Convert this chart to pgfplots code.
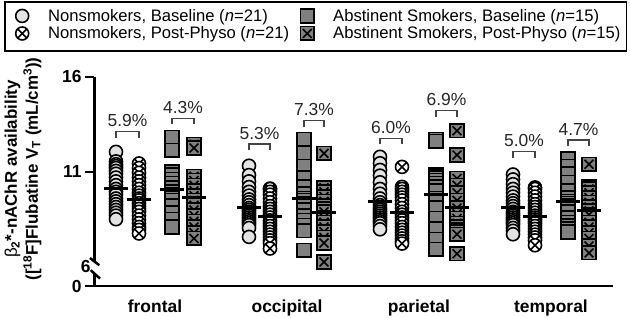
\documentclass[border=0pt]{standalone}
\usepackage{fontspec}
\setmainfont{Liberation Sans}
\usepackage{pgfplots}
\pgfplotsset{compat=1.18}
\definecolor{circfill}{HTML}{E3E3E3}
\definecolor{sqfill}{HTML}{808080}
\definecolor{brk}{HTML}{444444}
\pgfdeclareplotmark{boxtimes*}{%
  \pgfpathrectangle{\pgfqpoint{-\pgfplotmarksize}{-\pgfplotmarksize}}{\pgfqpoint{2\pgfplotmarksize}{2\pgfplotmarksize}}%
  \pgfusepathqfillstroke
  \pgfpathmoveto{\pgfqpoint{-0.65\pgfplotmarksize}{-0.65\pgfplotmarksize}}%
  \pgfpathlineto{\pgfqpoint{0.65\pgfplotmarksize}{0.65\pgfplotmarksize}}%
  \pgfpathmoveto{\pgfqpoint{-0.65\pgfplotmarksize}{0.65\pgfplotmarksize}}%
  \pgfpathlineto{\pgfqpoint{0.65\pgfplotmarksize}{-0.65\pgfplotmarksize}}%
  \pgfusepathqstroke}
\pgfplotsset{
  nsb/.style={only marks, mark=*, mark size=6.5bp, mark options={fill=circfill, draw=black, line width=1.6bp}},
  nsp/.style={only marks, mark=otimes*, mark size=6.5bp, mark options={fill=white, draw=black, line width=1.6bp}},
  smb/.style={only marks, mark=square*, mark size=6.8bp, mark options={fill=sqfill, draw=black, line width=1.6bp}},
  smp/.style={only marks, mark=boxtimes*, mark size=6.8bp, mark options={fill=sqfill, draw=black, line width=1.6bp}},
  meanbar/.style={only marks, mark=-, mark size=12bp, mark options={line width=3bp, draw=black}},
}
\newcommand{\lf}{\fontsize{16.7}{20}\selectfont}
\newcommand{\la}[1]{\makebox[242bp][l]{\lf #1}}
\newcommand{\lb}[1]{\makebox[289bp][l]{\lf #1}}
\begin{document}
\begin{tikzpicture}
\path[use as bounding box] (0,0) rectangle (630bp,318bp);
\begin{axis}[
  anchor=south west, at={(94bp,32bp)},
  scale only axis, width=519bp, height=209.3bp,
  xmin=94, xmax=613, ymin=5, ymax=16,
  clip=false,
  axis x line*=bottom, axis y line*=left,
  y axis line style={draw=none},
  x axis line style={line width=2.5bp},
  xtick={155,287,419,551},
  xticklabels={frontal,occipital,parietal,temporal},
  x tick style={draw=none},
  ytick={5,11,16},
  yticklabels={0,11,16},
  extra y ticks={6}, extra y tick labels={6},
  extra y tick style={major tick length=0pt},
  y tick style={line width=2bp, black},
  major tick length=9bp, tick align=outside,
  tick label style={font=\fontsize{17.5}{20}\selectfont\bfseries},
  xticklabel style={yshift=-1bp},
  legend columns=2, legend cell align=left,
  legend image code/.code={\path[draw=none,fill=none] (-17bp,-6bp) rectangle (26bp,6bp); \draw[#1] plot coordinates {(0bp,0bp)};},
  legend style={at={(-0.1715,1.338)}, anchor=north west, draw=none, fill=none,
    inner xsep=0bp, inner ysep=2bp, row sep=2bp,
    nodes={inner xsep=0bp, inner ysep=1bp},
    /tikz/every odd column/.append style={column sep=0bp},
    /tikz/every even column/.append style={column sep=0bp}},
]
\addlegendimage{nsb}\addlegendentry{\la{Nonsmokers, Baseline (\textit{n}=21)}}
\addlegendimage{smb}\addlegendentry{\lb{Abstinent Smokers, Baseline (\textit{n}=15)}}
\addlegendimage{nsp}\addlegendentry{\la{Nonsmokers, Post-Physo (\textit{n}=21)}}
\addlegendimage{smp}\addlegendentry{\lb{Abstinent Smokers, Post-Physo (\textit{n}=15)}}

% ---------- frontal ----------
\addplot[nsb, forget plot] coordinates {(116,12.05) (116,11.55) (116,11.4) (116,11.3) (116,11.2) (116,11.05) (116,10.9) (116,10.7) (116,10.5) (116,10.3) (116,10.1) (116,9.95) (116,9.8) (116,9.6) (116,9.45) (116,9.3) (116,9.15) (116,9.0) (116,8.85) (116,8.7) (116,8.51)};
\addplot[nsp, forget plot] coordinates {(139,11.44) (139,11.2) (139,10.95) (139,10.7) (139,10.5) (139,10.3) (139,10.1) (139,9.9) (139,9.75) (139,9.6) (139,9.5) (139,9.35) (139,9.2) (139,9.05) (139,8.9) (139,8.7) (139,8.5) (139,8.3) (139,8.1) (139,7.95) (139,7.76)};
\addplot[smb, forget plot] coordinates {(172,12.81) (172,12.14) (172,11.0) (172,10.85) (172,10.6) (172,10.4) (172,10.15) (172,9.95) (172,9.8) (172,9.65) (172,9.5) (172,9.2) (172,8.85) (172,8.5) (172,8.1)};
\addplot[smp, forget plot] coordinates {(194,12.45) (194,12.25) (194,10.77) (194,10.55) (194,10.3) (194,10.0) (194,9.75) (194,9.5) (194,9.25) (194,9.0) (194,8.7) (194,8.4) (194,8.1) (194,7.8) (194,7.5)};
% ---------- occipital ----------
\addplot[nsb, forget plot] coordinates {(249,11.32) (249,10.83) (249,10.5) (249,10.2) (249,9.95) (249,9.75) (249,9.55) (249,9.4) (249,9.25) (249,9.1) (249,9.0) (249,8.9) (249,8.8) (249,8.7) (249,8.6) (249,8.5) (249,8.4) (249,8.3) (249,8.2) (249,8.05) (249,7.58)};
\addplot[nsp, forget plot] coordinates {(270,10.12) (270,10.1) (270,9.95) (270,9.8) (270,9.6) (270,9.4) (270,9.2) (270,9.05) (270,8.9) (270,8.75) (270,8.6) (270,8.45) (270,8.3) (270,8.15) (270,8.0) (270,7.85) (270,7.7) (270,7.55) (270,7.4) (270,7.25) (270,6.97)};
\addplot[smb, forget plot] coordinates {(304,12.72) (304,12.0) (304,11.3) (304,10.7) (304,10.2) (304,9.85) (304,9.6) (304,9.5) (304,9.35) (304,9.0) (304,8.7) (304,8.45) (304,8.2) (304,7.9) (304,6.88)};
\addplot[smp, forget plot] coordinates {(324,11.97) (324,10.16) (324,9.95) (324,9.7) (324,9.45) (324,9.2) (324,9.05) (324,8.9) (324,8.6) (324,8.35) (324,8.1) (324,7.85) (324,7.55) (324,7.26) (324,6.26)};
% ---------- parietal ----------
\addplot[nsb, forget plot] coordinates {(380,11.79) (380,11.45) (380,11.1) (380,10.8) (380,10.45) (380,10.1) (380,9.85) (380,9.6) (380,9.4) (380,9.25) (380,9.1) (380,9.0) (380,8.9) (380,8.8) (380,8.7) (380,8.6) (380,8.5) (380,8.4) (380,8.3) (380,8.15) (380,7.98)};
\addplot[nsp, forget plot] coordinates {(402,11.26) (402,10.21) (402,10.1) (402,9.95) (402,9.8) (402,9.65) (402,9.5) (402,9.3) (402,9.1) (402,8.9) (402,8.75) (402,8.6) (402,8.45) (402,8.3) (402,8.1) (402,7.95) (402,7.8) (402,7.65) (402,7.5) (402,7.35) (402,7.23)};
\addplot[smb, forget plot] coordinates {(436,12.72) (436,12.6) (436,10.85) (436,10.79) (436,10.7) (436,10.55) (436,10.4) (436,10.2) (436,10.0) (436,9.6) (436,9.1) (436,8.55) (436,8.0) (436,7.45) (436,6.92)};
\addplot[smp, forget plot] coordinates {(457,13.16) (457,11.88) (457,10.65) (457,10.3) (457,9.9) (457,9.5) (457,9.1) (457,8.8) (457,8.55) (457,8.3) (457,8.1) (457,7.95) (457,7.85) (457,7.72) (457,6.7)};
% ---------- temporal ----------
\addplot[nsb, forget plot] coordinates {(513,10.86) (513,10.6) (513,10.35) (513,10.1) (513,9.9) (513,9.7) (513,9.5) (513,9.35) (513,9.2) (513,9.05) (513,8.9) (513,8.8) (513,8.7) (513,8.6) (513,8.5) (513,8.4) (513,8.3) (513,8.2) (513,8.05) (513,7.9) (513,7.72)};
\addplot[nsp, forget plot] coordinates {(535,10.18) (535,10.1) (535,9.9) (535,9.7) (535,9.5) (535,9.3) (535,9.15) (535,9.0) (535,8.85) (535,8.7) (535,8.6) (535,8.5) (535,8.4) (535,8.3) (535,8.15) (535,8.0) (535,7.85) (535,7.7) (535,7.55) (535,7.4) (535,7.14)};
\addplot[smb, forget plot] coordinates {(568,11.67) (568,11.3) (568,10.9) (568,10.45) (568,10.0) (568,9.65) (568,9.45) (568,9.35) (568,9.2) (568,8.9) (568,8.6) (568,8.35) (568,8.15) (568,8.0) (568,7.84)};
\addplot[smp, forget plot] coordinates {(589,11.4) (589,10.21) (589,10.1) (589,9.9) (589,9.65) (589,9.4) (589,9.15) (589,8.95) (589,8.75) (589,8.35) (589,8.1) (589,7.8) (589,7.5) (589,7.1) (589,6.74)};
% ---------- means ----------
\addplot[meanbar, forget plot] coordinates {(116,10.14) (139,9.55) (172,10.09) (194,9.65) (249,9.12) (270,8.63) (304,9.58) (324,8.88) (380,9.46) (402,8.88) (436,9.83) (457,9.14) (513,9.12) (535,8.67) (568,9.42) (589,8.95)};

% ---------- y axis with break ----------
\draw[line width=2.5bp, black] (axis cs:94.5,16) -- (axis cs:94.5,6.28);
\draw[line width=2.5bp, black] (axis cs:94.5,5.62) -- (axis cs:94.5,5);
\draw[line width=2.5bp, black] (axis cs:90,6.47) -- (axis cs:99.3,6.09);
\draw[line width=2.5bp, black] (axis cs:90.7,5.83) -- (axis cs:100,5.39);

% ---------- brackets ----------
\begin{scope}[brk, line width=1.2bp]
\draw (axis cs:116,12.78) -- (axis cs:116,13.1) -- (axis cs:139,13.1) -- (axis cs:139,12.78);
\draw (axis cs:172,13.49) -- (axis cs:172,13.81) -- (axis cs:194,13.81) -- (axis cs:194,13.49);
\draw (axis cs:249,12.14) -- (axis cs:249,12.46) -- (axis cs:270,12.46) -- (axis cs:270,12.14);
\draw (axis cs:304,13.36) -- (axis cs:304,13.68) -- (axis cs:324,13.68) -- (axis cs:324,13.36);
\draw (axis cs:380,12.44) -- (axis cs:380,12.76) -- (axis cs:402,12.76) -- (axis cs:402,12.44);
\draw (axis cs:436,13.89) -- (axis cs:436,14.21) -- (axis cs:457,14.21) -- (axis cs:457,13.89);
\draw (axis cs:513,11.73) -- (axis cs:513,12.05) -- (axis cs:535,12.05) -- (axis cs:535,11.73);
\draw (axis cs:568,12.35) -- (axis cs:568,12.67) -- (axis cs:589,12.67) -- (axis cs:589,12.35);
\end{scope}
\begin{scope}[every node/.style={anchor=base, yshift=5bp, inner sep=0pt, font=\fontsize{17.5}{20}\selectfont, text=black!85}]
\node at (axis cs:127.5,13.1) {5.9\%};
\node at (axis cs:183,13.81) {4.3\%};
\node at (axis cs:259.5,12.46) {5.3\%};
\node at (axis cs:314,13.68) {7.3\%};
\node at (axis cs:391,12.76) {6.0\%};
\node at (axis cs:446.5,14.21) {6.9\%};
\node at (axis cs:524,12.05) {5.0\%};
\node at (axis cs:578.5,12.67) {4.7\%};
\end{scope}
\end{axis}
% legend frame
\draw[line width=1.8bp, black] (5bp,316bp) rectangle (626.5bp,267bp);
\node[rotate=90, align=center, font=\fontsize{17}{21}\selectfont\bfseries, inner sep=0pt] at (23bp,149bp)
  {{\mdseries β}\textsubscript{2}*-nAChR availability\\([\textsuperscript{18}F]Flubatine V\textsubscript{T} (mL/cm\textsuperscript{3}))};
\end{tikzpicture}
\end{document}
